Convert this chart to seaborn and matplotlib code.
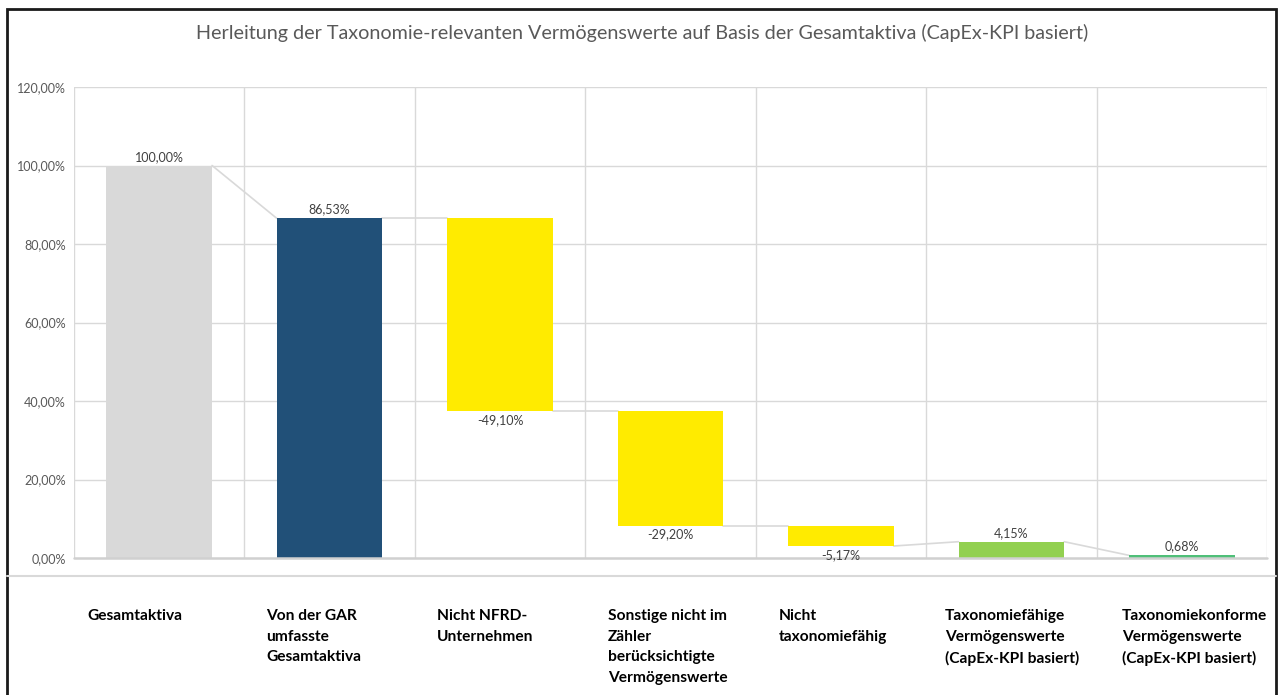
import matplotlib
matplotlib.use("Agg")
import matplotlib.pyplot as plt
from matplotlib.lines import Line2D
from matplotlib.patches import Rectangle
import seaborn as sns
import pandas as pd

# --- data ---------------------------------------------------------------
categories = [
    "Gesamtaktiva",
    "Von der GAR\numfasste\nGesamtaktiva",
    "Nicht NFRD-\nUnternehmen",
    "Sonstige nicht im\nZähler\nberücksichtigte\nVermögenswerte",
    "Nicht\ntaxonomiefähig",
    "Taxonomiefähige\nVermögenswerte\n(CapEx-KPI basiert)",
    "Taxonomiekonforme\nVermögenswerte\n(CapEx-KPI basiert)",
]
values = [100.00, 86.53, -49.10, -29.20, -5.17, 4.15, 0.68]
# Kind of each step: absolute totals start at zero, deltas float
kinds = ["total", "total", "delta", "delta", "delta", "total", "total"]
bar_colors = ["#d9d9d9", "#215078", "#ffeb00", "#ffeb00", "#ffeb00", "#92d050", "#4fbf78"]
title = "Herleitung der Taxonomie-relevanten Vermögenswerte auf Basis der Gesamtaktiva (CapEx-KPI basiert)"
yticks = [0, 20, 40, 60, 80, 100, 120]

# --- waterfall geometry derived from the values -------------------------
bases, heights, tops, bottoms = [], [], [], []
level = 0.0
for v, k in zip(values, kinds):
    if k == "total":
        base, height = 0.0, v
        level = v
    else:
        base, height = level + v, -v
        level = level + v
    bases.append(base)
    heights.append(height)
    bottoms.append(base)
    tops.append(base + height)

df = pd.DataFrame({"Kategorie": categories, "Hoehe": heights})

# --- figure -------------------------------------------------------------
W, H = 1285, 695
sns.set_theme(style="white")
plt.rcParams["font.family"] = ["Lato", "DejaVu Sans"]
fig = plt.figure(figsize=(W / 100, H / 100), dpi=100)
fig.patch.set_facecolor("white")

ax_l, ax_r, ax_b, ax_t = 74, 1267, 558, 87
ax = fig.add_axes([ax_l / W, (H - ax_b) / H, (ax_r - ax_l) / W, (ax_b - ax_t) / H])

bar_w = 0.62
sns.barplot(data=df, x="Kategorie", y="Hoehe", bottom=bases, width=bar_w,
            errorbar=None, color="#d9d9d9", ax=ax, zorder=3, linewidth=0)
for patch, c in zip(ax.patches, bar_colors):
    patch.set_facecolor(c)
    patch.set_edgecolor(c)

ax.set_xlim(-0.5, len(categories) - 0.5)
ax.set_ylim(0, 120)
ax.set_yticks(yticks)
ax.set_yticklabels([f"{t:.2f}".replace(".", ",") + "%" for t in yticks],
                   fontsize=9, color="#595959")
ax.tick_params(axis="y", length=0, pad=6)
ax.set_xticks([])
ax.set_xlabel("")
ax.set_ylabel("")
for s in ax.spines.values():
    s.set_visible(False)

# grid: horizontal value lines and vertical category separators
grid_c = "#d9d9d9"
for t in yticks[1:]:
    ax.axhline(t, color=grid_c, lw=1, zorder=0)
for i in range(len(categories) + 1):
    ax.axvline(i - 0.5, color=grid_c, lw=1, zorder=0)
ax.axhline(0, color="#d0d0d0", lw=1.8, zorder=4, clip_on=False)

# connector lines between consecutive bars
def exit_level(i):
    return bottoms[i] if values[i] < 0 else tops[i]

def entry_level(i):
    return tops[i]

conn_c = "#d9d9d9"
for i in range(len(values) - 1):
    x0 = i + bar_w / 2
    x1 = i + 1 - bar_w / 2
    ax.plot([x0, x1], [exit_level(i), entry_level(i + 1)], color=conn_c, lw=1.2, zorder=2)

# value labels
for i, v in enumerate(values):
    txt = f"{v:.2f}".replace(".", ",") + "%"
    if v < 0:
        ax.annotate(txt, (i, bottoms[i]), xytext=(0, -2), textcoords="offset points",
                    ha="center", va="top", fontsize=9, color="#404040", zorder=6)
    else:
        ax.annotate(txt, (i, tops[i]), xytext=(0, 2), textcoords="offset points",
                    ha="center", va="bottom", fontsize=9, color="#404040", zorder=6)

# title
fig.text(642 / W, 1 - 33 / H, title, ha="center", va="center",
         fontsize=14.2, color="#595959")

# category labels below the plot area
label_x = [87, 266, 437, 608, 779, 945, 1122]
for x, lab in zip(label_x, categories):
    fig.text(x / W, 1 - 609 / H, lab, ha="left", va="top", fontsize=11.2,
             fontweight="bold", color="#000000", linespacing=1.6)

# separator between plot area and category labels
fig.add_artist(Line2D([7 / W, 1276 / W], [1 - 576 / H, 1 - 576 / H],
                      transform=fig.transFigure, color="#d9d9d9", lw=1.5))

# outer frame
fig.add_artist(Rectangle((7 / W, -0.05), (1276 - 7) / W, 1 - 9 / H + 0.05,
                         transform=fig.transFigure, fill=False,
                         edgecolor="#1a1a1a", lw=2))

fig.savefig("out.png", dpi=100, facecolor="white")
